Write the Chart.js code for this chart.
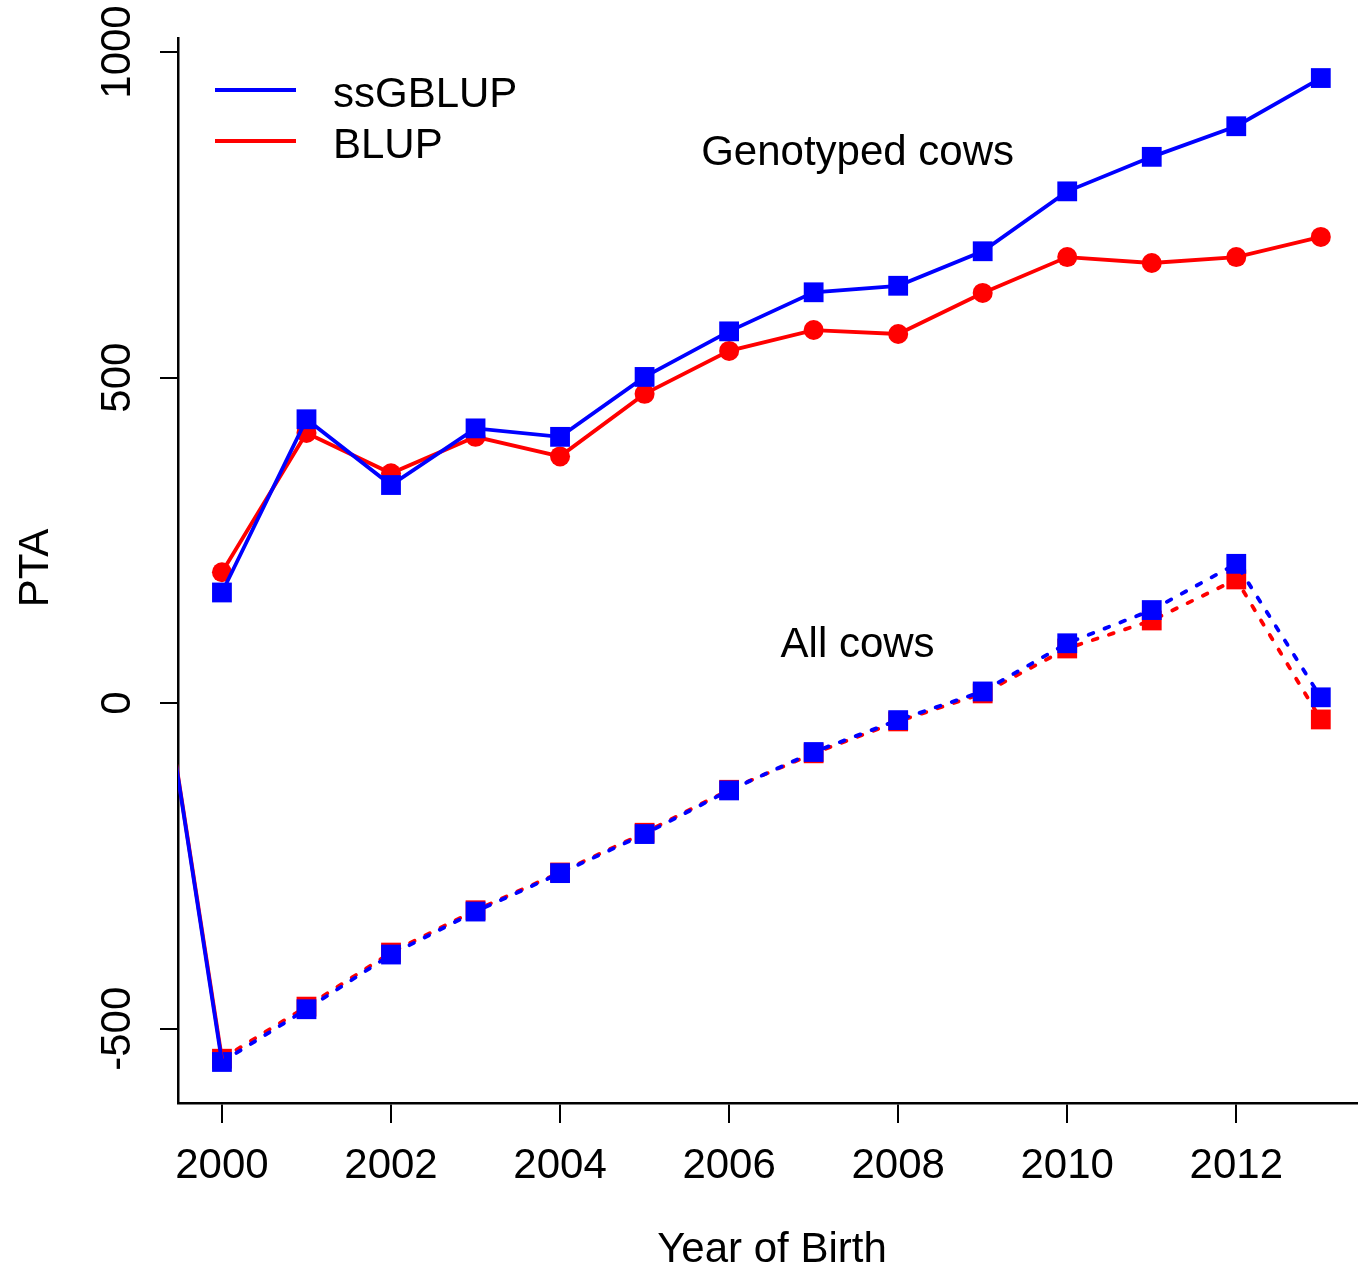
<!DOCTYPE html>
<html>
<head>
<meta charset="utf-8">
<script src="https://cdn.jsdelivr.net/npm/chart.js@4"></script>
<style>
body { margin:0; background:#fff; }
canvas { display:block; }
</style>
</head>
<body>
<canvas id="pta" width="1358" height="1268"></canvas>
<script>
// years of birth
var years = [2000,2001,2002,2003,2004,2005,2006,2007,2008,2009,2010,2011,2012,2013];
// genotyped cows
var genoSS   = [170,436,335,422,409,501,571,631,641,694,786,839,886,960];
var genoBLUP = [201,415,353,409,379,475,541,573,567,630,685,676,685,716];
// all cows
var allSS    = [-551,-470,-386,-320,-261,-201,-134,-75,-26,18,92,143,214,9];
var allBLUP  = [-546,-466,-383,-318,-260,-199,-133,-77,-28,15,84,127,190,-25];
// stray segment coming in from the left edge
var strayYears = [1999,2000];
var straySS    = [290,-551];
var strayBLUP  = [290,-546];

var xTicks = [2000,2002,2004,2006,2008,2010,2012];
var yTicks = [-500,0,500,1000];

var FONT = '"Liberation Sans", Arial, sans-serif';

function pts(xs, ys) {
	var out = [];
	for (var i = 0; i < xs.length; i++) out.push({x: xs[i], y: ys[i]});
	return out;
}

function line(label, xs, ys, color, style, dashed, order, r) {
	return {
		label: label,
		data: pts(xs, ys),
		showLine: true,
		borderColor: color,
		backgroundColor: color,
		borderWidth: 3.8,
		borderDash: dashed ? [5, 12] : [],
		borderCapStyle: dashed ? 'round' : 'butt',
		pointStyle: style,
		pointRadius: r,
		pointBorderWidth: 0,
		pointBackgroundColor: color,
		order: order,
		clip: 0
	};
}

var decor = {
	id: 'decor',
	afterDraw: function(c) {
		var ctx = c.ctx, xs = c.scales.x, ys = c.scales.y;
		ctx.save();
		ctx.fillStyle = '#000';
		ctx.font = '42px ' + FONT;
		ctx.textAlign = 'center';
		ctx.textBaseline = 'middle';
		// x tick labels
		xTicks.forEach(function(v) {
			ctx.fillText(String(v), xs.getPixelForValue(v), 1166);
		});
		// y tick labels, rotated
		yTicks.forEach(function(v) {
			ctx.save();
			ctx.translate(118, ys.getPixelForValue(v));
			ctx.rotate(-Math.PI / 2);
			ctx.fillText(String(v), 0, 0);
			ctx.restore();
		});
		// axis titles
		ctx.fillText('Year of Birth', 772, 1250);
		ctx.save();
		ctx.translate(36, 568);
		ctx.rotate(-Math.PI / 2);
		ctx.fillText('PTA', 0, 0);
		ctx.restore();
		// annotations
		ctx.fillText('Genotyped cows', xs.getPixelForValue(2007.52), ys.getPixelForValue(845));
		ctx.fillText('All cows', xs.getPixelForValue(2007.52), ys.getPixelForValue(88));
		// legend
		ctx.textAlign = 'left';
		ctx.lineWidth = 3.8;
		[['ssGBLUP', 'blue', 90], ['BLUP', 'red', 141]].forEach(function(l) {
			ctx.strokeStyle = l[1];
			ctx.beginPath();
			ctx.moveTo(215, l[2]);
			ctx.lineTo(296, l[2]);
			ctx.stroke();
			ctx.fillText(l[0], 333, l[2] + 5);
		});
		ctx.restore();
	}
};

var chart = new Chart(document.getElementById('pta'), {
	type: 'scatter',
	data: {
		datasets: [
			line('stray BLUP', strayYears, strayBLUP, 'red', 'circle', false, 4, 0),
			line('stray ssGBLUP', strayYears, straySS, 'blue', 'rect', false, 3, 0),
			line('BLUP all', years, allBLUP, 'red', 'rect', true, 6, 14),
			line('ssGBLUP all', years, allSS, 'blue', 'rect', true, 5, 14),
			line('BLUP', years, genoBLUP, 'red', 'circle', false, 2, 10),
			line('ssGBLUP', years, genoSS, 'blue', 'rect', false, 1, 14)
		]
	},
	options: {
		responsive: false,
		animation: false,
		devicePixelRatio: 1,
		layout: { autoPadding: false, padding: { top: 38, left: 0, right: 0, bottom: 0 } },
		plugins: { legend: { display: false }, tooltip: { enabled: false } },
		scales: {
			x: {
				type: 'linear',
				min: 1999.48,
				max: 2013.44,
				afterBuildTicks: function(s) { s.ticks = xTicks.map(function(v) { return {value: v}; }); },
				afterFit: function(s) { s.height = 165; s.paddingLeft = 0; s.paddingRight = 0; },
				ticks: { display: false },
				grid: { drawOnChartArea: false, drawTicks: true, tickLength: 20, color: '#000', lineWidth: 2 },
				border: { display: true, color: '#000', width: 2.5 }
			},
			y: {
				type: 'linear',
				min: -614,
				max: 1021.5,
				afterBuildTicks: function(s) { s.ticks = yTicks.map(function(v) { return {value: v}; }); },
				afterFit: function(s) { s.width = 178; s.paddingTop = 0; s.paddingBottom = 0; },
				ticks: { display: false },
				grid: { drawOnChartArea: false, drawTicks: true, tickLength: 18, color: '#000', lineWidth: 2 },
				border: { display: true, color: '#000', width: 2.5 }
			}
		}
	},
	plugins: [decor]
});
</script>
</body>
</html>
